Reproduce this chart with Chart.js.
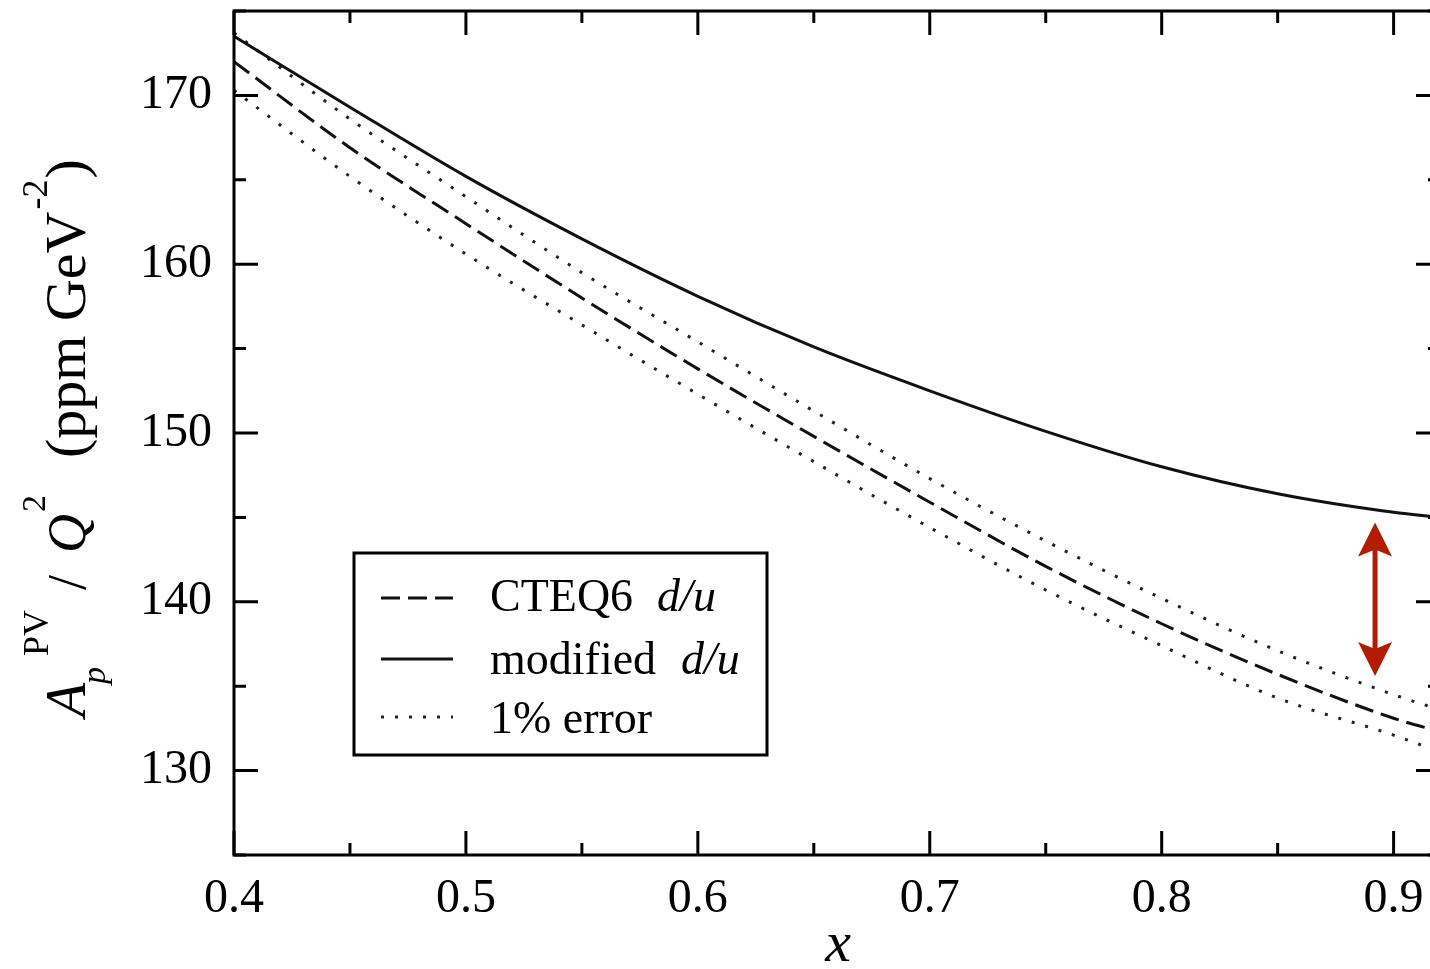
<!doctype html>
<html>

<head>
    <title>A_p PV / Q2</title>
    <script src="https://cdn.jsdelivr.net/npm/chart.js"></script>
</head>

<style>
    html, body { margin: 0; padding: 0; background: #fff; overflow: hidden; width: 1430px; height: 969px; }
    canvas { display: block; }
</style>

<body>
    <canvas id="grafico" width="1445" height="969"></canvas>

    <script>
        // values
        var xValues = [0.40, 0.45, 0.50, 0.55, 0.60, 0.65, 0.70, 0.75, 0.80, 0.85, 0.90, 0.92];
        var modifiedDU = [173.5, 169.3, 165.2, 161.5, 158.1, 155.1, 152.5, 150.1, 148.0, 146.4, 145.3, 145.0];
        var cteq6DU = [172.0, 166.9, 162.4, 158.0, 153.8, 149.8, 145.9, 142.1, 138.7, 135.7, 133.1, 132.3];
        var errorUpper = [173.7, 168.6, 164.0, 159.5, 155.4, 151.3, 147.3, 143.6, 140.2, 137.1, 134.5, 133.6];
        var errorLower = [170.3, 165.2, 160.6, 156.4, 152.3, 148.3, 144.4, 140.7, 137.4, 134.3, 132.1, 131.1];

        var xTicks = [0.4, 0.5, 0.6, 0.7, 0.8, 0.9];
        var xMinorTicks = [0.45, 0.55, 0.65, 0.75, 0.85];
        var yTicks = [130, 140, 150, 160, 170];
        var yMinorTicks = [125, 135, 145, 155, 165, 175];

        // red double arrow (x, from y, to y)
        var arrowX = 0.892;
        var arrowFrom = 135.6;
        var arrowTo = 144.7;

        var serif = "'Liberation Serif', 'DejaVu Serif', serif";

        function pts(ys) {
            return xValues.map(function (x, i) { return { x: x, y: ys[i] }; });
        }

        function drawRuns(ctx, runs, x, y) {
            runs.forEach(function (r) {
                ctx.font = r.font;
                ctx.fillText(r.text, x, y + (r.dy || 0));
                x += ctx.measureText(r.text).width + (r.gap || 0);
            });
            return x;
        }

        var decor = {
            id: 'decor',
            afterDraw: function (chart) {
                var ctx = chart.ctx;
                var a = chart.chartArea;
                var sx = chart.scales.x, sy = chart.scales.y;

                ctx.save();
                ctx.strokeStyle = '#000';
                ctx.lineWidth = 3;
                ctx.strokeRect(a.left, a.top, a.right - a.left, a.bottom - a.top);

                // inward ticks on all four sides
                ctx.lineWidth = 3;
                ctx.beginPath();
                function xt(v, len) {
                    var px = sx.getPixelForValue(v);
                    ctx.moveTo(px, a.bottom); ctx.lineTo(px, a.bottom - len);
                    ctx.moveTo(px, a.top); ctx.lineTo(px, a.top + len);
                }
                function yt(v, len) {
                    var py = sy.getPixelForValue(v);
                    ctx.moveTo(a.left, py); ctx.lineTo(a.left + len, py);
                    ctx.moveTo(a.right, py); ctx.lineTo(a.right - len, py);
                }
                xTicks.forEach(function (v) { xt(v, 24); });
                xMinorTicks.forEach(function (v) { xt(v, 12); });
                yTicks.forEach(function (v) { yt(v, 24); });
                yMinorTicks.forEach(function (v) { yt(v, 12); });
                ctx.stroke();

                // red arrow
                var ax = sx.getPixelForValue(arrowX);
                var top = sy.getPixelForValue(arrowTo);
                var bot = sy.getPixelForValue(arrowFrom);
                ctx.fillStyle = '#b21c02';
                ctx.strokeStyle = '#b21c02';
                ctx.lineWidth = 5;
                ctx.beginPath();
                ctx.moveTo(ax, top + 25); ctx.lineTo(ax, bot - 25);
                ctx.stroke();
                ctx.beginPath();
                ctx.moveTo(ax, top); ctx.lineTo(ax + 17, top + 34); ctx.lineTo(ax, top + 27); ctx.lineTo(ax - 17, top + 34);
                ctx.closePath(); ctx.fill();
                ctx.beginPath();
                ctx.moveTo(ax, bot); ctx.lineTo(ax + 17, bot - 34); ctx.lineTo(ax, bot - 27); ctx.lineTo(ax - 17, bot - 34);
                ctx.closePath(); ctx.fill();

                // legend box
                ctx.fillStyle = '#fff';
                ctx.fillRect(354, 553, 413, 202);
                ctx.strokeStyle = '#000';
                ctx.lineWidth = 3;
                ctx.strokeRect(354, 553, 413, 202);
                var ds = chart.data.datasets;
                var rows = [
                    { d: ds[1], y: 598, base: 611, runs: [{ text: 'CTEQ6', font: '46px ' + serif, gap: 24 }, { text: 'd/u', font: 'italic 46px ' + serif }] },
                    { d: ds[0], y: 659, base: 674, runs: [{ text: 'modified', font: '46px ' + serif, gap: 25 }, { text: 'd/u', font: 'italic 46px ' + serif }] },
                    { d: ds[2], y: 717, base: 733, runs: [{ text: '1% error', font: '46px ' + serif }] }
                ];
                ctx.fillStyle = '#000';
                ctx.textBaseline = 'alphabetic';
                ctx.textAlign = 'left';
                rows.forEach(function (r) {
                    ctx.save();
                    ctx.strokeStyle = r.d.borderColor;
                    ctx.lineWidth = r.d.borderWidth;
                    ctx.setLineDash(r.d.borderDash || []);
                    ctx.beginPath();
                    ctx.moveTo(381, r.y); ctx.lineTo(453, r.y);
                    ctx.stroke();
                    ctx.restore();
                    drawRuns(ctx, r.runs, 490, r.base);
                });

                // x title
                ctx.font = 'italic 58px ' + serif;
                ctx.textAlign = 'center';
                ctx.fillText('x', 838, 961);

                // y title, rotated
                ctx.save();
                ctx.translate(85, 0);
                ctx.rotate(-Math.PI / 2);
                ctx.textAlign = 'left';
                var parts = [
                    { s: 717, text: 'A', font: 'italic 56px ' + serif, dy: 0 },
                    { s: 684, text: 'p', font: 'italic 34px ' + serif, dy: 20 },
                    { s: 656, text: 'PV', font: '36px ' + serif, dy: -37 },
                    { s: 590, text: '/', font: '54px ' + serif, dy: 0 },
                    { s: 553, text: 'Q', font: 'italic 54px ' + serif, dy: 0 },
                    { s: 512, text: '2', font: '34px ' + serif, dy: -40 }
                ];
                parts.forEach(function (p) {
                    ctx.font = p.font;
                    ctx.fillText(p.text, -p.s, p.dy);
                });
                drawRuns(ctx, [
                    { text: '(ppm GeV', font: '58px ' + serif, gap: 2 },
                    { text: '-2', font: '36px ' + serif, dy: -38, gap: 1 },
                    { text: ')', font: '58px ' + serif }
                ], -458, 0);
                ctx.restore();

                ctx.restore();
            }
        };

        var chart = new Chart(document.getElementById('grafico').getContext('2d'), {
            type: 'line',
            data: {
                datasets: [{
                    label: 'modified d/u',
                    data: pts(modifiedDU),
                    borderColor: '#111',
                    borderWidth: 3
                }, {
                    label: 'CTEQ6 d/u',
                    data: pts(cteq6DU),
                    borderColor: '#111',
                    borderWidth: 3,
                    borderDash: [19, 8]
                }, {
                    label: '1% error',
                    data: pts(errorUpper),
                    borderColor: '#222',
                    borderWidth: 3,
                    borderDash: [3, 11]
                }, {
                    label: '1% error (low)',
                    data: pts(errorLower),
                    borderColor: '#222',
                    borderWidth: 3,
                    borderDash: [3, 11]
                }]
            },
            options: {
                responsive: false,
                animation: false,
                layout: { padding: { top: 11, right: 5, left: 0, bottom: 0 } },
                elements: { point: { radius: 0 }, line: { cubicInterpolationMode: 'monotone', fill: false } },
                plugins: { legend: { display: false }, tooltip: { enabled: false } },
                scales: {
                    x: {
                        type: 'linear',
                        min: 0.4,
                        max: 0.92,
                        grid: { display: false, drawTicks: false },
                        border: { display: false },
                        afterBuildTicks: function (s) { s.ticks = xTicks.map(function (v) { return { value: v }; }); },
                        afterFit: function (s) { s.height = 114; },
                        ticks: {
                            color: '#000',
                            padding: 16,
                            maxRotation: 0,
                            autoSkip: false,
                            font: { family: serif, size: 48 },
                            callback: function (v) { return v.toFixed(1); }
                        }
                    },
                    y: {
                        min: 125,
                        max: 175,
                        grid: { display: false, drawTicks: false },
                        border: { display: false },
                        afterBuildTicks: function (s) { s.ticks = yTicks.map(function (v) { return { value: v }; }); },
                        afterFit: function (s) { s.width = 234; s.paddingTop = 0; s.paddingBottom = 0; },
                        ticks: {
                            color: '#000',
                            padding: 22,
                            autoSkip: false,
                            font: { family: serif, size: 48, lineHeight: 0.3 },
                            callback: function (v) { return String(v); }
                        }
                    }
                }
            },
            plugins: [decor]
        });
    </script>
</body>

</html>
